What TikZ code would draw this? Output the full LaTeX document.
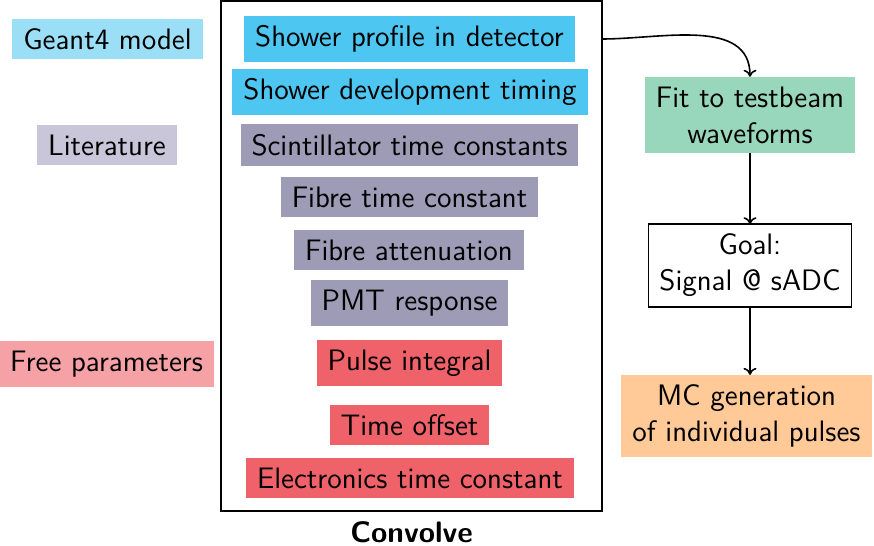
\documentclass[tikz,border=0pt]{standalone}
\usepackage{fontspec}
\usetikzlibrary{arrows.meta}
\definecolor{geantL}{RGB}{155,223,247}
\definecolor{geantD}{RGB}{77,199,242}
\definecolor{litL}{RGB}{200,198,216}
\definecolor{litD}{RGB}{158,155,183}
\definecolor{freeL}{RGB}{246,161,166}
\definecolor{freeD}{RGB}{240,98,106}
\definecolor{fitC}{RGB}{153,215,189}
\definecolor{mcC}{RGB}{255,201,152}
\begin{document}
\begin{tikzpicture}[x=0.5pt,y=-0.5pt,font=\sffamily\fontsize{14.8}{18}\selectfont,
  box/.style={inner xsep=5.5pt,inner ysep=4.9pt,outer sep=0pt,anchor=center},
  flow/.style={-{To[length=3.5pt,width=6.5pt]},thick}]
\useasboundingbox (0,0) rectangle (874,546);
% main convolve box
\node[draw,line width=1pt,minimum width=190.5pt,minimum height=255pt,outer sep=0pt,
  label={[font=\sffamily\fontsize{14.8}{18}\selectfont\bfseries,inner sep=0pt,label distance=5pt]below:Convolve}] (conv) at (411.5,256) {};
% source legends
\node[box,fill=geantL] (geant) at (107.5,39) {Geant4 model};
\node[box,fill=litL] (lit) at (107,145) {Literature};
\node[box,fill=freeL] (free) at (106.5,364) {Free parameters};
% inner parameters
\node[box,fill=geantD] (prof) at (409.5,39) {Shower profile in detector};
\node[box,fill=geantD] (dev) at (410,92) {Shower development timing};
\node[box,fill=litD] (scin) at (409.5,145) {Scintillator time constants};
\node[box,fill=litD] (fibt) at (409.5,197) {Fibre time constant};
\node[box,fill=litD] (fiba) at (409,250) {Fibre attenuation};
\node[box,fill=litD] (pmt) at (409.5,303) {PMT response};
\node[box,fill=freeD] (pint) at (409.5,363) {Pulse integral};
\node[box,fill=freeD] (toff) at (409.5,425) {Time offset};
\node[box,fill=freeD] (elec) at (410,478) {Electronics time constant};
% right chain
\node[box,fill=fitC,align=center] (fit) at (750,115) {Fit to testbeam\\waveforms};
\node[box,draw,thick,align=center] (goal) at (750,265.5) {Goal:\\Signal @ sADC};
\node[box,fill=mcC,align=center] (mc) at (746.5,416) {MC generation\\of individual pulses};
% connectors
\draw[flow] (prof.east -| conv.east) to[out=0,in=90] (fit.north);
\draw[flow] (fit.south) -- (fit.south |- goal.north);
\draw[flow] (goal.south) -- (goal.south |- mc.north);
\end{tikzpicture}
\end{document}
